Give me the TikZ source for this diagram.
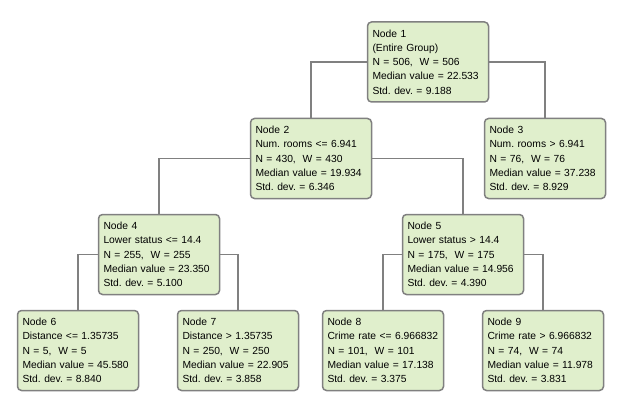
\documentclass[tikz,border=0pt]{standalone}
\usepackage{fontspec}
\setmainfont{Liberation Sans}
\usepackage{tikz}
\usepackage{xcolor}
\usetikzlibrary{positioning,calc}
\definecolor{leafgreen}{RGB}{224,239,204}
\definecolor{linegray}{RGB}{128,128,128}

\begin{document}
\begin{tikzpicture}[x=1pt, y=-1pt,
    treenode/.style={rectangle, rounded corners=4pt, draw=linegray, line width=1.5pt, fill=leafgreen,
        text width=111pt, inner xsep=5pt, inner ysep=2pt, minimum height=80pt, align=left,
        font=\fontsize{10.3}{14.3}\selectfont\frenchspacing},
    link/.style={draw=linegray, line width=1.5pt}
]
    \useasboundingbox (0,0) rectangle (629,409);

    \node[treenode] (n1) at (428,62) {Node 1\\(Entire Group)\\N = 506,~ W = 506\\Median value = 22.533\\Std.\ dev.\ = 9.188};
    \node[treenode] (n2) at (311,158.5) {Node 2\\Num.\ rooms <= 6.941\\N = 430,~ W = 430\\Median value = 19.934\\Std.\ dev.\ = 6.346};
    \node[treenode] (n3) at (545,158.5) {Node 3\\Num.\ rooms > 6.941\\N = 76,~ W = 76\\Median value = 37.238\\Std.\ dev.\ = 8.929};
    \node[treenode] (n4) at (159,254.5) {Node 4\\Lower status <= 14.4\\N = 255,~ W = 255\\Median value = 23.350\\Std.\ dev.\ = 5.100};
    \node[treenode] (n5) at (463,254.5) {Node 5\\Lower status > 14.4\\N = 175,~ W = 175\\Median value = 14.956\\Std.\ dev.\ = 4.390};
    \node[treenode] (n6) at (78,350.5) {Node 6\\Distance <= 1.35735\\N = 5,~ W = 5\\Median value = 45.580\\Std.\ dev.\ = 8.840};
    \node[treenode] (n7) at (238,350.5) {Node 7\\Distance > 1.35735\\N = 250,~ W = 250\\Median value = 22.905\\Std.\ dev.\ = 3.858};
    \node[treenode] (n8) at (383,350.5) {Node 8\\Crime rate <= 6.966832\\N = 101,~ W = 101\\Median value = 17.138\\Std.\ dev.\ = 3.375};
    \node[treenode] (n9) at (543,350.5) {Node 9\\Crime rate > 6.966832\\N = 74,~ W = 74\\Median value = 11.978\\Std.\ dev.\ = 3.831};

    % splits
    \draw[link] (n1.west) -| (n2.north);
    \draw[link] (n1.east) -| (n3.north);
    \draw[link] (n2.west) -| (n4.north);
    \draw[link] (n2.east) -| (n5.north);
    \draw[link] (n4.west) -| (n6.north);
    \draw[link] (n4.east) -| (n7.north);
    \draw[link] (n5.west) -| (n8.north);
    \draw[link] (n5.east) -| (n9.north);
\end{tikzpicture}
\end{document}
